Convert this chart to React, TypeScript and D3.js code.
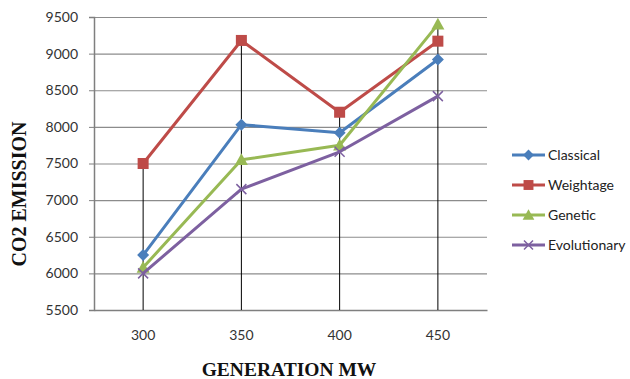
import { useEffect, useRef } from 'react';
import * as d3 from 'd3';

const categories = ['300', '350', '400', '450'];
const seriesNames = ['Classical', 'Weightage', 'Genetic', 'Evolutionary'];
const classical = [6250, 8030, 7920, 8920];
const weightage = [7500, 9180, 8200, 9170];
const genetic = [6080, 7550, 7750, 9400];
const evolutionary = [6000, 7150, 7660, 8420];
const yTicks = [5500, 6000, 6500, 7000, 7500, 8000, 8500, 9000, 9500];

const colors = ['#4A7EBB', '#BE4B48', '#98B954', '#7D60A0'];
const markers = ['diamond', 'square', 'triangle', 'cross'];

export default function App() {
    const svgRef = useRef<SVGSVGElement>(null);

    useEffect(() => {
        const svg = d3.select(svgRef.current);
        svg.selectAll('*').remove();

        const margin = { top: 17, right: 143, bottom: 69, left: 94 };
        const width = 630 - margin.left - margin.right;
        const height = 379 - margin.top - margin.bottom;
        const allSeries = [classical, weightage, genetic, evolutionary];

        const g = svg.append('g')
            .attr('transform', `translate(${margin.left},${margin.top})`);

        const xScale = d3.scaleBand().domain(categories).range([0, width]);
        const yScale = d3.scaleLinear().domain([5500, 9500]).range([height, 0]);
        const cx = (c: string) => (xScale(c) || 0) + xScale.bandwidth() / 2;

        // gridlines
        g.append('g')
            .call(d3.axisLeft(yScale).tickValues(yTicks).tickSize(-width).tickFormat(() => ''))
            .call(a => a.select('.domain').remove())
            .selectAll('line')
            .attr('stroke', '#8c8c8c')
            .attr('stroke-width', 1.2);

        // y axis
        const yAxis = g.append('g')
            .call(d3.axisLeft(yScale).tickValues(yTicks).tickSize(5).tickPadding(11).tickFormat(d3.format('d')));
        yAxis.select('.domain').attr('stroke', '#7f7f7f').attr('stroke-width', 1.5);
        yAxis.selectAll('line').attr('stroke', '#7f7f7f');
        yAxis.selectAll('text')
            .style('font-family', 'Lato, sans-serif')
            .style('font-size', '14px')
            .attr('fill', '#333');

        // x axis
        const xAxis = g.append('g')
            .attr('transform', `translate(0,${height})`)
            .call(d3.axisBottom(xScale).tickSize(0).tickPadding(20));
        xAxis.select('.domain').attr('stroke', '#7f7f7f').attr('stroke-width', 1.5);
        xAxis.selectAll('text')
            .style('font-family', 'Lato, sans-serif')
            .style('font-size', '14px')
            .attr('fill', '#333');

        // drop lines
        categories.forEach((c, i) => {
            const maxV = d3.max(allSeries, s => s[i]) as number;
            g.append('line')
                .attr('x1', cx(c)).attr('x2', cx(c))
                .attr('y1', yScale(maxV)).attr('y2', height)
                .attr('stroke', '#000')
                .attr('stroke-width', 1);
        });

        const line = d3.line<number>()
            .x((_, i) => cx(categories[i]))
            .y(d => yScale(d));

        const drawMarker = (sel: any, type: string, color: string, x: number, y: number, scale = 1) => {
            if (type === 'diamond') {
                const s = 6 * scale;
                sel.append('path')
                    .attr('d', `M${x},${y - s}L${x + s},${y}L${x},${y + s}L${x - s},${y}Z`)
                    .attr('fill', color);
            } else if (type === 'square') {
                const s = 5.5 * scale;
                sel.append('rect')
                    .attr('x', x - s).attr('y', y - s)
                    .attr('width', 2 * s).attr('height', 2 * s)
                    .attr('fill', color);
            } else if (type === 'triangle') {
                const s = 6.5 * scale;
                sel.append('path')
                    .attr('d', `M${x},${y - s}L${x + s},${y + s * 0.8}L${x - s},${y + s * 0.8}Z`)
                    .attr('fill', color);
            } else {
                const s = 5 * scale;
                sel.append('path')
                    .attr('d', `M${x - s},${y - s}L${x + s},${y + s}M${x - s},${y + s}L${x + s},${y - s}`)
                    .attr('stroke', color)
                    .attr('stroke-width', 1.5)
                    .attr('fill', 'none');
            }
        };

        allSeries.forEach((s, k) => {
            g.append('path')
                .datum(s)
                .attr('fill', 'none')
                .attr('stroke', colors[k])
                .attr('stroke-width', 3)
                .attr('stroke-linejoin', 'round')
                .attr('d', line);
            s.forEach((v, i) => drawMarker(g, markers[k], colors[k], cx(categories[i]), yScale(v)));
        });

        // legend
        const legend = svg.append('g').attr('transform', 'translate(512,155)');
        seriesNames.forEach((name, k) => {
            const row = legend.append('g').attr('transform', `translate(0,${k * 30})`);
            row.append('line')
                .attr('x1', 0).attr('x2', 33)
                .attr('y1', 0).attr('y2', 0)
                .attr('stroke', colors[k])
                .attr('stroke-width', 3);
            drawMarker(row, markers[k], colors[k], 16.5, 0, 0.9);
            row.append('text')
                .attr('x', 36)
                .attr('y', 5)
                .style('font-family', 'Lato, sans-serif')
                .style('font-size', '14px')
                .attr('fill', '#222')
                .text(name);
        });

        // axis titles
        svg.append('text')
            .attr('transform', 'translate(26,194) rotate(-90)')
            .attr('text-anchor', 'middle')
            .style('font-family', '"Liberation Serif", "Times New Roman", serif')
            .style('font-weight', 'bold')
            .style('font-size', '20px')
            .attr('fill', '#111')
            .text('CO2 EMISSION');

        svg.append('text')
            .attr('x', 289)
            .attr('y', 376)
            .attr('text-anchor', 'middle')
            .style('font-family', '"Liberation Serif", "Times New Roman", serif')
            .style('font-weight', 'bold')
            .style('font-size', '19.5px')
            .attr('fill', '#111')
            .text('GENERATION MW');
    }, []);

    return (
        <svg
            ref={svgRef}
            width={630}
            height={379}
            style={{ position: 'absolute', left: 0, top: 0, background: '#fff' }}
        />
    );
}
